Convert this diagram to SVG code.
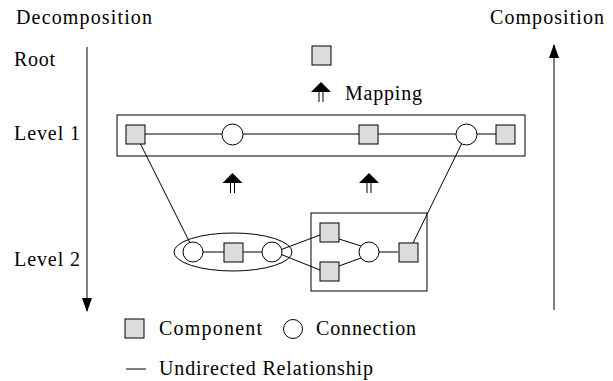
<svg xmlns="http://www.w3.org/2000/svg" width="613" height="381" viewBox="0 0 613 381">
<style>
text{font-family:"Liberation Serif","Times New Roman",serif;font-size:20px;fill:#000}
.comp{fill:#dcdcdc;stroke:#000;stroke-width:1}
.conn{fill:#fff;stroke:#000;stroke-width:1}
.ln{stroke:#000;stroke-width:1;fill:none}
.box{fill:none;stroke:#000;stroke-width:1}
</style>
<defs>
<marker id="ah" markerWidth="14" markerHeight="10" refX="13" refY="5" orient="auto" markerUnits="userSpaceOnUse" viewBox="0 0 14 10">
<path d="M0,0 L14,5 L0,10 Z" fill="#000"/>
</marker>
<g id="map">
<path d="M0,0 L10,10 L-10,10 Z" fill="#000"/>
<line x1="-2" y1="10" x2="-2" y2="20" stroke="#000" stroke-width="1"/>
<line x1="2" y1="10" x2="2" y2="20" stroke="#000" stroke-width="1"/>
</g>
</defs>

<g id="labels">
<text x="16" y="24" textLength="136" lengthAdjust="spacing">Decomposition</text>
<text x="490" y="24" textLength="114" lengthAdjust="spacing">Composition</text>
<text x="14" y="66" textLength="41" lengthAdjust="spacing">Root</text>
<text x="14" y="140" textLength="66" lengthAdjust="spacing">Level 1</text>
<text x="14" y="266" textLength="66" lengthAdjust="spacing">Level 2</text>
</g>

<g id="axes">
<line class="ln" x1="87" y1="47" x2="87" y2="311" marker-end="url(#ah)"/>
<line class="ln" x1="554" y1="310" x2="554" y2="45" marker-end="url(#ah)"/>
</g>

<g id="root">
<rect class="comp" x="312" y="46" width="19" height="19"/>
</g>
<g id="mapping-root">
<use href="#map" x="321" y="82"/>
<text x="345" y="100" textLength="77" lengthAdjust="spacing">Mapping</text>
</g>

<g id="level1-box"><rect class="box" x="117" y="115" width="408" height="41"/></g>

<g id="connectors">
<line class="ln" x1="145" y1="134" x2="222" y2="134"/>
<line class="ln" x1="243" y1="134" x2="359" y2="134"/>
<line class="ln" x1="378" y1="134" x2="456" y2="134"/>
<line class="ln" x1="477" y1="134" x2="496" y2="134"/>
<line class="ln" x1="140" y1="143" x2="190" y2="243"/>
<line class="ln" x1="462" y1="143" x2="413" y2="243"/>
<line class="ln" x1="203" y1="252" x2="224" y2="252"/>
<line class="ln" x1="243" y1="252" x2="262" y2="252"/>
<line class="ln" x1="280" y1="250" x2="320" y2="235"/>
<line class="ln" x1="280" y1="254" x2="320" y2="270"/>
<line class="ln" x1="339" y1="239" x2="361" y2="246"/>
<line class="ln" x1="339" y1="266" x2="361" y2="258"/>
<line class="ln" x1="379" y1="252" x2="398" y2="252"/>
</g>

<g id="l1-c1"><rect class="comp" x="126" y="125" width="19" height="19"/></g>
<g id="l1-n1"><circle class="conn" cx="232.5" cy="134.5" r="10.5"/></g>
<g id="l1-c2"><rect class="comp" x="359" y="125" width="19" height="19"/></g>
<g id="l1-n2"><circle class="conn" cx="466.5" cy="134.5" r="10.5"/></g>
<g id="l1-c3"><rect class="comp" x="496" y="125" width="19" height="19"/></g>

<g id="mapping-1"><use href="#map" x="232.5" y="173"/></g>
<g id="mapping-2"><use href="#map" x="369" y="173"/></g>

<g id="l2-group-a"><ellipse class="box" cx="233" cy="252" rx="59" ry="19"/></g>
<g id="l2-group-b"><rect class="box" x="311" y="213" width="116" height="78"/></g>

<g id="l2-n1"><circle class="conn" cx="193" cy="252" r="10"/></g>
<g id="l2-c1"><rect class="comp" x="224" y="243" width="19" height="19"/></g>
<g id="l2-n2"><circle class="conn" cx="272" cy="252" r="10"/></g>
<g id="l2-c2"><rect class="comp" x="320" y="223" width="19" height="19"/></g>
<g id="l2-c3"><rect class="comp" x="320" y="262" width="19" height="19"/></g>
<g id="l2-n3"><circle class="conn" cx="369" cy="252" r="10"/></g>
<g id="l2-c4"><rect class="comp" x="399" y="243" width="19" height="19"/></g>

<g id="legend">
<rect class="comp" x="125" y="319" width="19" height="19"/>
<text x="159" y="335" textLength="103" lengthAdjust="spacing">Component</text>
<circle class="conn" cx="293" cy="329" r="9.5"/>
<text x="316" y="335" textLength="100" lengthAdjust="spacing">Connection</text>
<line class="ln" x1="126" y1="369" x2="146" y2="369"/>
<text x="159" y="375" textLength="214" lengthAdjust="spacing">Undirected Relationship</text>
</g>
</svg>
